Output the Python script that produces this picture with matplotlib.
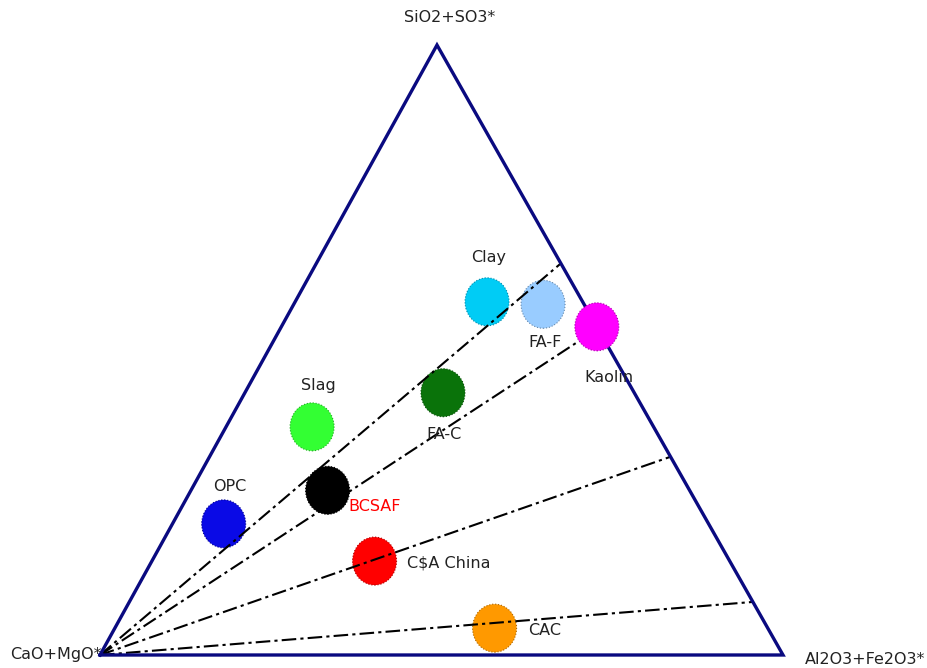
import numpy as np
import matplotlib
matplotlib.use("Agg")
import matplotlib.pyplot as plt
from matplotlib.patches import Ellipse

# Ternary compositions (fractions): CaO+MgO*, SiO2+SO3*, Al2O3+Fe2O3*
materials = ["OPC", "Slag", "BCSAF", "C$A China", "CAC", "FA-C", "Clay", "FA-F", "Kaolin"]
cao = [0.71, 0.50, 0.53, 0.52, 0.40, 0.28, 0.14, 0.06, 0.00]
sio2 = [0.215, 0.374, 0.270, 0.154, 0.044, 0.430, 0.579, 0.575, 0.538]
al2o3 = [0.075, 0.126, 0.200, 0.326, 0.556, 0.290, 0.281, 0.365, 0.462]
colors = ["#0a0ae6", "#33ff33", "#000000", "#ff0000", "#ff9900",
          "#0a730a", "#00ccf5", "#99ccff", "#ff00ff"]
edges = ["#00008a", "#22aa22", "#000000", "#aa0000", "#aa6600",
         "#064d06", "#0088a8", "#6688aa", "#aa00aa"]

# ratio lines from the CaO corner to the opposite edge (SiO2, Al2O3 at end)
line_sio2 = [0.642, 0.535, 0.325, 0.087]
line_al2o3 = [0.358, 0.465, 0.675, 0.913]

# triangle corners in plot units
A = np.array([0.0, 0.0])
B = np.array([0.4934, 0.8931])
C = np.array([1.0, 0.0])
PX = 683.0  # pixels per unit


def tern(a, b, c):
    a, b, c = np.asarray(a), np.asarray(b), np.asarray(c)
    s = a + b + c
    x = (a * A[0] + b * B[0] + c * C[0]) / s
    y = (a * A[1] + b * B[1] + c * C[1]) / s
    return x, y


fig = plt.figure(figsize=(9.28, 6.68), dpi=100)
ax = fig.add_axes([0, 0, 1, 1])
ax.set_xlim(-100 / PX, 828 / PX)
ax.set_ylim(-13 / PX, 655 / PX)
ax.axis("off")

# points (slightly tall ellipses); Kaolin sits on top of the edge
px, py = tern(cao, sio2, al2o3)
for name, x, y, col, ec in zip(materials, px, py, colors, edges):
    z = 6 if name == "Kaolin" else 2
    ax.add_patch(Ellipse((x, y), 44 / PX, 48 / PX, facecolor=col,
                         edgecolor=ec, lw=0.8, ls=":", zorder=z))

# ratio lines (drawn over the points)
for s, c in zip(line_sio2, line_al2o3):
    x, y = tern([1, 0], [0, s], [0, c])
    ax.plot(x, y, color="black", lw=1.5, ls=(0, (7, 2, 1.5, 2)), zorder=3)

# triangle
tx = [A[0], B[0], C[0], A[0]]
ty = [A[1], B[1], C[1], A[1]]
ax.plot(tx, ty, color="#0a0a80", lw=2.4, zorder=4, solid_joinstyle="miter")

fs = 11.5
off = {  # label offsets in pixels (dx, dy, ha)
    "OPC": (6, 37, "center"),
    "Slag": (6, 41, "center"),
    "BCSAF": (21, -16, "left"),
    "C$A China": (32, -2, "left"),
    "CAC": (34, -2, "left"),
    "FA-C": (1, -42, "center"),
    "Clay": (2, 44, "center"),
    "FA-F": (2, -38, "center"),
    "Kaolin": (12, -51, "center"),
}
for name, x, y in zip(materials, px, py):
    dx, dy, ha = off[name]
    col = "red" if name == "BCSAF" else "#222222"
    ax.text(x + dx / PX, y + dy / PX, name, fontsize=fs, color=col,
            ha=ha, va="center", zorder=7)

# corner labels
ax.text(A[0] - 90 / PX, A[1], "CaO+MgO*", fontsize=fs, color="#222222",
        ha="left", va="center", zorder=0)
ax.text(B[0] + 13 / PX, B[1] + 28 / PX, "SiO2+SO3*", fontsize=fs,
        color="#222222", ha="center", va="center")
ax.text(C[0] + 22 / PX, C[1] - 4 / PX, "Al2O3+Fe2O3*", fontsize=fs,
        color="#222222", ha="left", va="center")

fig.savefig("out.png", dpi=100, facecolor="white")
